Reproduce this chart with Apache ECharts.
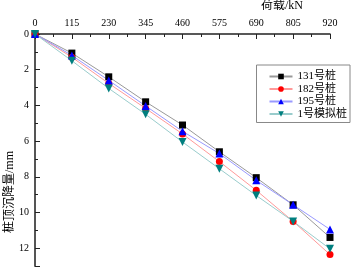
<!DOCTYPE html>
<html>
<head>
<meta charset="utf-8">
<script src="https://cdn.jsdelivr.net/npm/echarts@6/dist/echarts.min.js"></script>
<style>
  html, body { margin: 0; padding: 0; background: #fff; }
  #main { width: 353px; height: 268px; }
</style>
</head>
<body>
<div id="main"></div>
<script>
// 荷载 (kN)
var loads = [0, 115, 230, 345, 460, 575, 690, 805, 920];
// 各桩沉降量 (mm)
var pile131 = [0, 1.07, 2.4, 3.8, 5.1, 6.6, 8.05, 9.57, 11.4];
var pile182 = [0, 1.3, 2.77, 4.17, 5.6, 7.15, 8.76, 10.5, 12.36];
var pile195 = [0, 1.2, 2.6, 4.03, 5.45, 6.7, 8.2, 9.57, 10.95];
var pileSim = [0, 1.5, 3.05, 4.5, 6.05, 7.55, 9.05, 10.5, 12.04];
var seriesNames = ['131号桩', '182号桩', '195号桩', '1号模拟桩'];

function pairs(ys) {
    return loads.map(function (x, i) { return [x, ys[i]]; });
}

var numFont = 'Liberation Serif';
var cnFont = '"Liberation Serif", "Noto Sans CJK SC"';

var myChart = echarts.init(document.getElementById('main'));
var option = {
    animation: false,
    grid: { left: 35, top: 34, right: 23, bottom: 2 },
    legend: {
        data: seriesNames,
        orient: 'vertical',
        right: 3,
        top: 65,
        itemWidth: 23,
        itemHeight: 7,
        itemGap: 1.5,
        padding: [6, 3, 3, 12],
        borderColor: '#888',
        borderWidth: 1,
        textStyle: { fontFamily: cnFont, fontSize: 11, color: '#000' }
    },
    graphic: [
        {
            type: 'text', left: 261, top: 0,
            style: { text: '荷载/kN', font: '12px ' + cnFont, fill: '#000' }
        },
        {
            type: 'text', x: 4, y: 233, rotation: Math.PI / 2,
            style: { text: '桩顶沉降量/mm', font: '12px ' + cnFont, fill: '#000' }
        }
    ],
    xAxis: {
        type: 'value',
        position: 'top',
        min: 0, max: 920, interval: 115,
        axisLine: { lineStyle: { color: '#222', width: 1.5 } },
        axisTick: { inside: true, length: 5, lineStyle: { color: '#222' } },
        minorTick: { show: true, splitNumber: 2, length: 3, lineStyle: { color: '#222' } },
        axisLabel: { fontFamily: numFont, fontSize: 10, color: '#000', margin: 6 },
        splitLine: { show: false }
    },
    yAxis: {
        type: 'value',
        inverse: true,
        min: 0, max: 13, interval: 2,
        axisLine: { lineStyle: { color: '#555', width: 2 } },
        axisTick: { inside: true, length: 5, lineStyle: { color: '#222' } },
        minorTick: { show: true, splitNumber: 2, length: 3, lineStyle: { color: '#222' } },
        axisLabel: { fontFamily: numFont, fontSize: 10, color: '#000', margin: 6, showMaxLabel: false },
        splitLine: { show: false }
    },
    series: [
        {
            name: seriesNames[0], type: 'line', data: pairs(pile131),
            symbol: 'rect', symbolSize: 7, showSymbol: true,
            itemStyle: { color: '#000' },
            lineStyle: { color: '#999', width: 1 }
        },
        {
            name: seriesNames[1], type: 'line', data: pairs(pile182),
            symbol: 'circle', symbolSize: 7,
            itemStyle: { color: '#ff0000' },
            lineStyle: { color: '#ff9999', width: 1 }
        },
        {
            name: seriesNames[2], type: 'line', data: pairs(pile195),
            symbol: 'triangle', symbolSize: 8,
            itemStyle: { color: '#0000ff' },
            lineStyle: { color: '#9999ff', width: 1 }
        },
        {
            name: seriesNames[3], type: 'line', data: pairs(pileSim),
            symbol: 'triangle', symbolRotate: 180, symbolSize: 8,
            itemStyle: { color: '#007f7f' },
            lineStyle: { color: '#99cccc', width: 1 }
        }
    ]
};
myChart.setOption(option);
</script>
</body>
</html>
